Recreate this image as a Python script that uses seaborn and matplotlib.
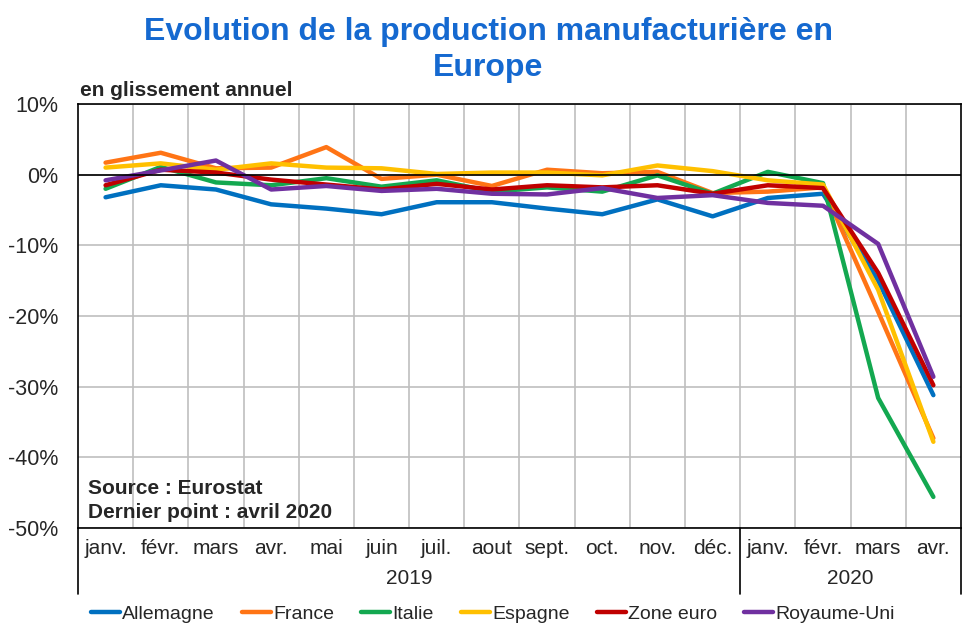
import numpy as np
import pandas as pd
import seaborn as sns
import matplotlib.pyplot as plt
import matplotlib.transforms as mtransforms

months = ["janv.", "févr.", "mars", "avr.", "mai", "juin", "juil.", "aout",
          "sept.", "oct.", "nov.", "déc.", "janv.", "févr.", "mars", "avr."]
years = ["2019", "2020"]
year_counts = [12, 4]

allemagne = [-3.2, -1.5, -2.1, -4.2, -4.8, -5.6, -3.9, -3.9, -4.8, -5.6, -3.5, -5.9, -3.3, -2.7, -15.0, -31.2]
france = [1.7, 3.1, 0.9, 1.0, 3.9, -0.6, 0.0, -1.6, 0.7, 0.2, 0.4, -2.6, -2.4, -1.8, -19.4, -37.3]
italie = [-2.0, 1.1, -1.1, -1.5, -0.5, -1.7, -0.8, -2.4, -1.8, -2.4, -0.1, -2.7, 0.4, -1.2, -31.6, -45.6]
espagne = [1.0, 1.6, 0.7, 1.6, 1.0, 0.9, 0.1, 0.3, 0.3, -0.1, 1.3, 0.5, -0.8, -1.4, -16.3, -37.8]
zone_euro = [-1.5, 0.7, 0.3, -0.7, -1.4, -2.1, -1.3, -2.1, -1.5, -1.8, -1.5, -2.7, -1.5, -1.9, -13.9, -29.8]
royaume_uni = [-0.8, 0.6, 2.0, -2.1, -1.6, -2.3, -2.0, -2.7, -2.8, -1.9, -3.3, -2.9, -4.0, -4.4, -9.8, -28.6]

series = {
    "Allemagne": allemagne,
    "France": france,
    "Italie": italie,
    "Espagne": espagne,
    "Zone euro": zone_euro,
    "Royaume-Uni": royaume_uni,
}
palette = {
    "Allemagne": "#0070C0",
    "France": "#FF7415",
    "Italie": "#13A850",
    "Espagne": "#FFC000",
    "Zone euro": "#C00000",
    "Royaume-Uni": "#7030A0",
}

rows = []
for name, vals in series.items():
    for i, v in enumerate(vals):
        rows.append({"pos": i, "valeur": v, "pays": name})
df = pd.DataFrame(rows)

sns.set_style("white")
plt.rcParams["font.family"] = ["Liberation Sans", "DejaVu Sans"]
plt.rcParams["axes.unicode_minus"] = False

fig = plt.figure(figsize=(9.76, 6.38), dpi=100)
ax = fig.add_axes([0.0799, 0.1724, 0.9047, 0.6646])

sns.lineplot(data=df, x="pos", y="valeur", hue="pays", palette=palette,
             linewidth=3.2, ax=ax, legend=True)

n = len(months)
ax.set_xlim(-0.5, n - 0.5)
ax.set_ylim(-50, 10)
ax.set_yticks(np.arange(-50, 11, 10))
ax.set_yticklabels([f"{int(t)}%" for t in np.arange(-50, 11, 10)], fontsize=15.5)
ax.set_xticks(range(n))
ax.set_xticklabels(months, fontsize=15)
ax.set_xticks(np.arange(0.5, n - 1, 1), minor=True)
ax.tick_params(axis="x", which="both", length=0, pad=8)
ax.tick_params(axis="y", length=0, pad=14)
ax.grid(False)
ax.grid(axis="x", which="minor", color="#BFBFBF", linewidth=1.2)
ax.grid(axis="y", which="major", color="#BFBFBF", linewidth=1.2)
ax.axhline(0, color="black", linewidth=1.2)
ax.set_xlabel("")
ax.set_ylabel("")
for s in ax.spines.values():
    s.set_color("black")
    s.set_linewidth(1.2)

# year row under the month labels
trans = mtransforms.blended_transform_factory(ax.transData, ax.transAxes)
start = -0.5
for yr, cnt in zip(years, year_counts):
    ax.text(start + cnt / 2, -0.118, yr, transform=trans, ha="center", va="center",
            fontsize=15)
    start += cnt
edges = np.cumsum([0] + year_counts) - 0.5
for e in edges:
    ax.plot([e, e], [0, -0.155], transform=trans, color="black", linewidth=1.2, clip_on=False)

ax.text(0.011, 0.094, "Source : Eurostat", transform=ax.transAxes, fontsize=15,
        fontweight="bold", va="center", ha="left")
ax.text(0.011, 0.036, "Dernier point : avril 2020", transform=ax.transAxes, fontsize=15,
        fontweight="bold", va="center", ha="left")

fig.text(0.5, 1 - 50 / 638, "Evolution de la production manufacturière en\nEurope",
         ha="center", va="center", fontsize=23, fontweight="bold", color="#1569D0",
         linespacing=1.3)
fig.text(80 / 976, 1 - 91 / 638, "en glissement annuel", ha="left", va="center",
         fontsize=15, fontweight="bold")

handles, labels = ax.get_legend_handles_labels()
ax.get_legend().remove()
fig.legend(handles, labels, loc="center", bbox_to_anchor=(0.505, 1 - 614 / 638), ncol=6,
           frameon=False, handlelength=1.5, handletextpad=0.1,
           columnspacing=1.4, fontsize=14)

fig.savefig("out.png", dpi=100)
